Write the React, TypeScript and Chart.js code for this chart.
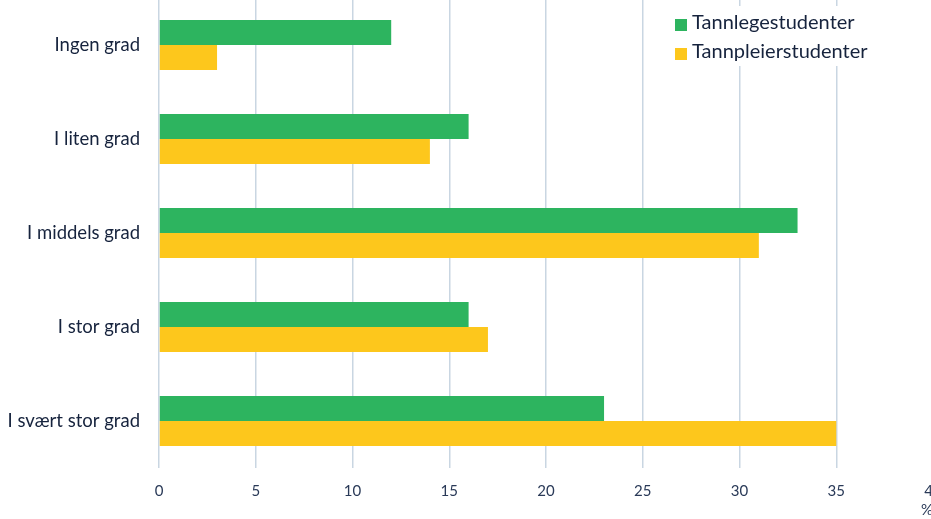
import React, { useEffect, useRef } from "react";
import { Chart, registerables } from "chart.js";

Chart.register(...registerables);

const categories = ["Ingen grad", "I liten grad", "I middels grad", "I stor grad", "I svært stor grad"];
const tannlegeValues = [12, 16, 33, 16, 23];
const tannpleierValues = [3, 14, 31, 17, 35];
const seriesNames = ["Tannlegestudenter", "Tannpleierstudenter"];
const xMin = 0;
const xMax = 40;
const xStep = 5;
const axisTitle = "%";

const GREEN = "#2db45f";
const YELLOW = "#fdc71c";
const TEXT = "#16233d";
const TICK = "#2a3a58";
const GRID = "#c9d6e2";
const FONT = "Lato, 'Open Sans', sans-serif";

const legendPlugin = {
  id: "insideLegend",
  afterDraw(chart: any) {
    const ctx = chart.ctx;
    ctx.save();
    ctx.fillStyle = "#ffffff";
    ctx.fillRect(662, 8, 220, 60);
    ctx.font = "20px " + FONT;
    ctx.textBaseline = "middle";
    ctx.textAlign = "left";
    chart.data.datasets.forEach((ds: any, i: number) => {
      const y = 27 + i * 29;
      ctx.fillStyle = ds.backgroundColor;
      ctx.fillRect(675, y - 6, 12, 12);
      ctx.fillStyle = TEXT;
      ctx.fillText(ds.label, 692, y - 2);
    });
    ctx.restore();
  },
};

export default function App() {
  const ref = useRef<HTMLCanvasElement | null>(null);
  useEffect(() => {
    if (!ref.current) return;
    const chart = new Chart(ref.current, {
      type: "bar",
      data: {
        labels: categories,
        datasets: [
          { label: seriesNames[0], data: tannlegeValues, backgroundColor: GREEN, categoryPercentage: 0.532, barPercentage: 1 },
          { label: seriesNames[1], data: tannpleierValues, backgroundColor: YELLOW, categoryPercentage: 0.532, barPercentage: 1 },
        ],
      },
      options: {
        indexAxis: "y",
        animation: false,
        responsive: false,
        maintainAspectRatio: false,
        layout: { autoPadding: false, padding: { top: 0, right: 12, left: 0, bottom: 0 } },
        plugins: {
          legend: { display: false },
          tooltip: { enabled: false },
        },
        scales: {
          x: {
            min: xMin,
            max: xMax,
            ticks: {
              stepSize: xStep,
              color: TICK,
              font: { size: 15, family: FONT },
              padding: 14,
            },
            grid: { color: GRID, lineWidth: 1.5, drawTicks: false },
            border: { display: false },
            title: {
              display: true,
              text: axisTitle,
              align: "end",
              color: TICK,
              font: { size: 15, family: FONT },
              padding: 0,
            },
            afterFit(scale: any) {
              scale.height = 51;
              scale.paddingLeft = 0;
              scale.paddingRight = 0;
              scale.paddingTop = 0;
              scale.paddingBottom = 0;
            },
          },
          y: {
            grid: { display: false, drawTicks: false },
            border: { display: false },
            ticks: {
              color: TEXT,
              font: { size: 18.5, family: FONT },
              padding: 19,
            },
            afterFit(scale: any) {
              scale.width = 159;
              scale.paddingLeft = 0;
              scale.paddingRight = 0;
              scale.paddingTop = 0;
              scale.paddingBottom = 0;
            },
          },
        },
      },
      plugins: [legendPlugin],
    });
    return () => chart.destroy();
  }, []);
  return (
    <div style={{ position: "fixed", left: 0, top: 0, width: 931, height: 519, overflow: "hidden", background: "#fff" }}>
      <canvas ref={ref} width={945} height={521} style={{ width: 945, height: 521, marginTop: -2, display: "block" }} />
    </div>
  );
}
